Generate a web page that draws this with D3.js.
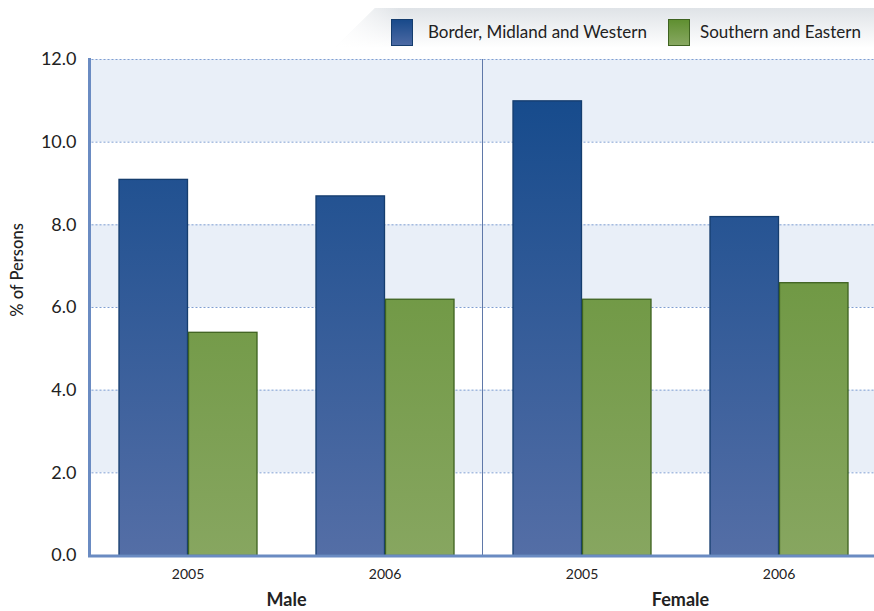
<!DOCTYPE html>
<html><head><meta charset="utf-8">
<script src="https://cdn.jsdelivr.net/npm/d3@7"></script>
<style>
body{margin:0;background:#fff;}
text{font-family:Lato,"Liberation Sans",sans-serif;fill:#222;}
</style></head><body>
<svg id="c" width="874" height="611"></svg>
<script>
const groups = ["Male","Female"];
const years = ["2005","2006"];
const categories = ["Male 2005","Male 2006","Female 2005","Female 2006"];
const seriesNames = ["Border, Midland and Western","Southern and Eastern"];
const bmw = [9.1, 8.7, 11.0, 8.2];
const se = [5.4, 6.2, 6.2, 6.6];
const yTicks = [0,2,4,6,8,10,12];

const svg = d3.select("#c");
const L = 89.5, R = 877.5, T = 59, B = 555;
const x = d3.scaleBand().domain(categories).range([L,R]).paddingInner(0).paddingOuter(0);
const xs = d3.scaleBand().domain(seriesNames).range([0,x.bandwidth()]).paddingInner(0).paddingOuter(0.417);
const y = d3.scaleLinear().domain([0,12]).range([B,T]);

const defs = svg.append("defs");
const gb = defs.append("linearGradient").attr("id","gb").attr("gradientUnits","userSpaceOnUse").attr("x1",0).attr("x2",0).attr("y1",T).attr("y2",B);
gb.append("stop").attr("offset",0).attr("stop-color","#11488a");
gb.append("stop").attr("offset",1).attr("stop-color","#546ea6");
const gg = defs.append("linearGradient").attr("id","gg").attr("gradientUnits","userSpaceOnUse").attr("x1",0).attr("x2",0).attr("y1",T).attr("y2",B);
gg.append("stop").attr("offset",0).attr("stop-color","#5e8e2f");
gg.append("stop").attr("offset",1).attr("stop-color","#87a660");
const lg = defs.append("linearGradient").attr("id","lg").attr("x1",0).attr("x2",0).attr("y1",0).attr("y2",1);
lg.append("stop").attr("offset",0).attr("stop-color","#dfe3e7");
lg.append("stop").attr("offset",1).attr("stop-color","#ffffff");
const lh = defs.append("linearGradient").attr("id","lh").attr("x1",0).attr("x2",1).attr("y1",0).attr("y2",0);
lh.append("stop").attr("offset",0).attr("stop-color","#fff").attr("stop-opacity",1);
lh.append("stop").attr("offset",0.12).attr("stop-color","#fff").attr("stop-opacity",0);
const lgb = defs.append("linearGradient").attr("id","lgb").attr("x1",0).attr("x2",0).attr("y1",0).attr("y2",1);
lgb.append("stop").attr("offset",0).attr("stop-color","#17498a");lgb.append("stop").attr("offset",1).attr("stop-color","#4d6aa4");
const lgg2 = defs.append("linearGradient").attr("id","lgg").attr("x1",0).attr("x2",0).attr("y1",0).attr("y2",1);
lgg2.append("stop").attr("offset",0).attr("stop-color","#5f8f30");lgg2.append("stop").attr("offset",1).attr("stop-color","#88a862");

// bands
for (let i=0;i<yTicks.length-1;i+=1){
  const a=yTicks[i], b=yTicks[i+1];
  if (i%2===1) {
    svg.append("rect").attr("x",L).attr("y",y(b)).attr("width",874-L).attr("height",y(a)-y(b)).attr("fill","#e9eff8");
  }
}
// gridlines
svg.append("g").selectAll("line").data(yTicks.filter(d=>d>0)).join("line")
  .attr("x1",L+2).attr("x2",874).attr("y1",d=>y(d)+0.5).attr("y2",d=>y(d)+0.5)
  .attr("stroke","#7f9ed2").attr("stroke-width",1).attr("stroke-dasharray","2,2");

// divider
const dx = Math.floor(x("Female 2005"))-0.5;
svg.append("line").attr("x1",dx).attr("x2",dx).attr("y1",T).attr("y2",B)
  .attr("stroke","#5f78a8").attr("stroke-width",1);

// bars
const data = categories.map((c,i)=>({c, vals:[{s:seriesNames[0],v:bmw[i]},{s:seriesNames[1],v:se[i]}]}));
const g = svg.append("g").selectAll("g").data(data).join("g").attr("transform",d=>`translate(${x(d.c)},0)`);
g.selectAll("rect").data(d=>d.vals).join("rect")
  .attr("x",d=>xs(d.s)+0.5).attr("y",d=>y(d.v)+0.5)
  .attr("width",xs.bandwidth()-1).attr("height",d=>B-y(d.v))
  .attr("fill",d=>d.s===seriesNames[0]?"url(#gb)":"url(#gg)")
  .attr("stroke",d=>d.s===seriesNames[0]?"#153d6e":"#3e6220").attr("stroke-width",1.3);

// axes lines
svg.append("rect").attr("x",88).attr("y",T-1).attr("width",3).attr("height",B-T+3).attr("fill","#6a8bc2");
svg.append("rect").attr("x",88).attr("y",B-0.5).attr("width",874-88).attr("height",3).attr("fill","#6a8bc2");

// y axis labels
const ya = svg.append("g").attr("transform",`translate(${L-2},0)`).call(d3.axisLeft(y).tickValues(yTicks).tickFormat(d3.format(".1f")).tickSize(0).tickPadding(11));
ya.select(".domain").remove();
ya.selectAll("text").attr("font-size",18).attr("font-family","Lato,'Liberation Sans',sans-serif").attr("fill","#222");

svg.append("text").attr("transform","translate(23,270) rotate(-90)").attr("text-anchor","middle")
  .attr("font-size",16.5).attr("font-weight",500).text("% of Persons");

// x labels
const xa = svg.append("g").attr("transform",`translate(0,${B})`).call(d3.axisBottom(x).tickSize(0).tickPadding(14).tickFormat((d,i)=>years[i%2]));
xa.select(".domain").remove();
xa.selectAll("text").attr("font-size",14).attr("font-family","Lato,'Liberation Sans',sans-serif").attr("fill","#222");

groups.forEach((gname,gi)=>{
  const cx = (x(categories[gi*2]) + x(categories[gi*2+1]) + x.bandwidth())/2;
  svg.append("text").attr("x",cx).attr("y",606).attr("text-anchor","middle").attr("font-size",18).attr("font-weight","bold").text(gname);
});

// legend
const lgG = svg.append("g");
lgG.append("path").attr("d","M335,48 L375,8 L874,8 L874,48 Z").attr("fill","url(#lg)");
lgG.append("path").attr("d","M335,48 L375,8 L874,8 L874,48 Z").attr("fill","url(#lh)");
const items = [{s:seriesNames[0],x:391,tx:428,fill:"url(#lgb)"},{s:seriesNames[1],x:668,tx:700,fill:"url(#lgg)"}];
items.forEach((it,i)=>{
  lgG.append("rect").attr("x",it.x+0.5).attr("y",19.5).attr("width",21).attr("height",26)
    .attr("fill",it.fill).attr("stroke",i===0?"#153d6e":"#3e6220").attr("stroke-width",1);
  lgG.append("text").attr("x",it.tx).attr("y",38).attr("font-size",17).text(it.s);
});
</script></body></html>
